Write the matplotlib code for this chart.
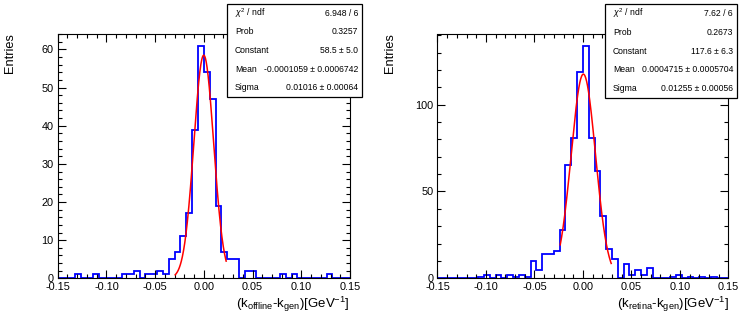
import numpy as np
import matplotlib
matplotlib.use('Agg')
import matplotlib.pyplot as plt
from matplotlib.patches import Rectangle
from matplotlib.ticker import MultipleLocator

plt.rcParams['font.family'] = ['Liberation Sans', 'DejaVu Sans']
plt.rcParams['mathtext.fontset'] = 'custom'
plt.rcParams['mathtext.rm'] = 'Liberation Sans'
plt.rcParams['mathtext.it'] = 'Liberation Sans:italic'
plt.rcParams['axes.unicode_minus'] = False

# histogram binning: 50 bins on [-0.15, 0.15]
X_MIN, X_MAX, N_BINS = -0.15, 0.15, 50

# bin contents
offline_counts = [0, 0, 0, 1, 0, 0, 1, 0, 0, 0,
                  0, 1, 1, 2, 0, 1, 1, 2, 1, 5,
                  7, 11, 17, 39, 61, 54, 47, 19, 7, 5,
                  5, 0, 2, 2, 0, 0, 0, 0, 1, 0,
                  1, 0, 0, 0, 0, 0, 1, 0, 0, 0]
retina_counts = [0, 0, 0, 0, 0, 0, 0, 1, 2, 0,
                 2, 0, 2, 1, 2, 1, 10, 5, 14, 14,
                 16, 28, 65, 81, 119, 134, 81, 62, 36, 17,
                 11, 0, 8, 2, 5, 2, 6, 0, 0, 0,
                 1, 2, 0, 1, 0, 1, 0, 1, 0, 0]

# gaussian fit results (constant, mean, sigma) and fit range
offline_fit = [58.5, -0.0001059, 0.01016]
offline_fit_range = [-0.0294, 0.0229]
retina_fit = [117.6, 0.0004715, 0.01255]
retina_fit_range = [-0.0234, 0.0292]

stat_labels = [r'$\chi^{2}$ / ndf', 'Prob', 'Constant', 'Mean', 'Sigma']
offline_stats = ['6.948 / 6', '0.3257', '58.5 ± 5.0',
                 '-0.0001059 ± 0.0006742', '0.01016 ± 0.00064']
retina_stats = ['7.62 / 6', '0.2673', '117.6 ± 6.3',
                '0.0004715 ± 0.0005704', '0.01255 ± 0.00056']

offline_title = r'(k$_{\mathrm{offline}}$-k$_{\mathrm{gen}}$)[GeV$^{\mathrm{-1}}$]'
retina_title = r'(k$_{\mathrm{retina}}$-k$_{\mathrm{gen}}$)[GeV$^{\mathrm{-1}}$]'

W, H = 748, 318
fig = plt.figure(figsize=(W / 100, H / 100), dpi=100)
fig.patch.set_facecolor('white')


def px(x0, y0, x1, y1):
    """pixel box -> figure fraction [left, bottom, width, height]"""
    return [x0 / W, 1 - y1 / H, (x1 - x0) / W, (y1 - y0) / H]


def draw_panel(frame, counts, fit, fit_range, y_major, y_minor,
               xtitle, xtitle_right, ytitle_x, box, stats):
    ax = fig.add_axes(px(*frame))
    edges = np.linspace(X_MIN, X_MAX, N_BINS + 1)
    ax.stairs(counts, edges, color='#0000ff', linewidth=1.3)

    # fitted gaussian
    xs = np.linspace(fit_range[0], fit_range[1], 300)
    ax.plot(xs, fit[0] * np.exp(-0.5 * ((xs - fit[1]) / fit[2]) ** 2),
            color='#ff0000', linewidth=1.1)

    ax.set_xlim(X_MIN, X_MAX)
    ax.set_ylim(0, max(counts) * 1.05)
    ax.xaxis.set_major_locator(MultipleLocator(0.05))
    ax.xaxis.set_minor_locator(MultipleLocator(0.01))
    ax.yaxis.set_major_locator(MultipleLocator(y_major))
    ax.yaxis.set_minor_locator(MultipleLocator(y_minor))
    ax.xaxis.set_major_formatter(plt.FuncFormatter(lambda v, p: f'{v:.2f}'.replace('-0.00', '0.00')))
    ax.tick_params(which='both', direction='in', top=True, right=True,
                   width=0.8, labelsize=7.8)
    ax.tick_params(which='major', length=5.5)
    ax.tick_params(which='minor', length=2.7)
    ax.tick_params(axis='x', pad=2.5)
    ax.tick_params(axis='y', pad=3)
    for sp in ax.spines.values():
        sp.set_linewidth(0.8)

    fig.text(xtitle_right / W, 1 - 307.5 / H, xtitle, ha='right',
             va='baseline', fontsize=9.5)
    fig.text(ytitle_x / W, 1 - 33 / H, 'Entries', rotation=90,
             ha='center', va='top', fontsize=9.2)

    # stats box
    bx0, by0, bx1, by1 = box
    fig.add_artist(Rectangle((bx0 / W, 1 - by1 / H), (bx1 - bx0) / W,
                             (by1 - by0) / H, transform=fig.transFigure,
                             facecolor='white', edgecolor='black',
                             linewidth=0.9, zorder=5))
    row_h = (by1 - by0) / len(stats)
    for i, (lab, val) in enumerate(zip(stat_labels, stats)):
        yc = 1 - (by0 + row_h * (i + 0.5)) / H
        fig.text((bx0 + 8) / W, yc, lab, ha='left', va='center',
                 fontsize=6.2, zorder=6)
        fig.text((bx1 - 4) / W, yc, val, ha='right', va='center',
                 fontsize=6.2, zorder=6)
    return ax


draw_panel((57.7, 34, 350, 278.3), offline_counts, offline_fit,
           offline_fit_range, 10, 2, offline_title, 350, 10,
           (227, 4, 362, 97), offline_stats)
draw_panel((437.5, 34, 728.3, 278.3), retina_counts, retina_fit,
           retina_fit_range, 50, 10, retina_title, 729, 390,
           (605, 4, 737, 98), retina_stats)

fig.savefig('out.png', dpi=100, facecolor='white')
